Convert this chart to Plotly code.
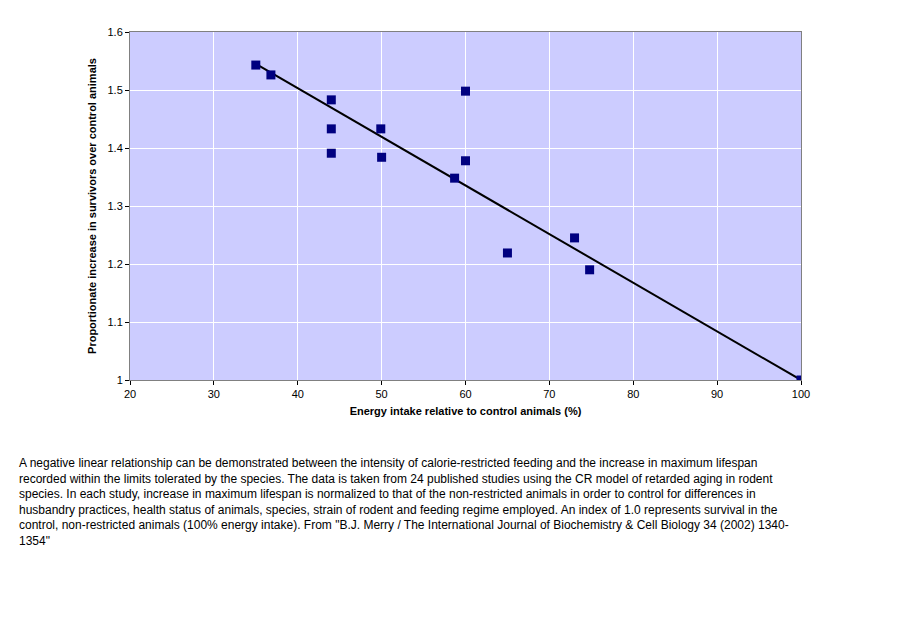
import plotly.graph_objects as go

energy = [35, 36.8, 44, 44, 44, 49.9, 50, 60, 60, 58.7, 65, 73, 74.8, 100]
lifespan = [1.543, 1.526, 1.483, 1.433, 1.391, 1.433, 1.384, 1.498, 1.378, 1.348, 1.219, 1.245, 1.190, 1.0]
fit_x = [35, 100]
fit_y = [1.545, 1.0]

caption = ("A negative linear relationship can be demonstrated between the intensity of calorie-restricted feeding and the increase in maximum lifespan<br>"
           "recorded within the limits tolerated by the species. The data is taken from 24 published studies using the CR model of retarded aging in rodent<br>"
           "species. In each study, increase in maximum lifespan is normalized to that of the non-restricted animals in order to control for differences in<br>"
           "husbandry practices, health status of animals, species, strain of rodent and feeding regime employed. An index of 1.0 represents survival in the<br>"
           "control, non-restricted animals (100% energy intake). From \"B.J. Merry / The International Journal of Biochemistry &amp; Cell Biology 34 (2002) 1340-<br>"
           "1354\"")

fig = go.Figure()
fig.add_trace(go.Scatter(x=fit_x, y=fit_y, mode="lines", line=dict(color="black", width=2), hoverinfo="skip"))
fig.add_trace(go.Scatter(x=energy, y=lifespan, mode="markers",
                         marker=dict(symbol="square", size=9, color="#000080")))

axis_common = dict(showgrid=True, gridcolor="white", gridwidth=1, showline=True, linecolor="#808080",
                   mirror=True, ticks="outside", ticklen=4, tickcolor="black", zeroline=False,
                   tickfont=dict(size=11, color="black"))
fig.update_xaxes(range=[20, 100], dtick=10, title=dict(text="<b>Energy intake relative to control animals (%)</b>",
                 font=dict(size=11), standoff=8), **axis_common)
fig.update_yaxes(range=[1, 1.6], dtick=0.1, tickformat="~g",
                 title=dict(text="<b>Proportionate increase in survivors over control animals</b>", font=dict(size=11), standoff=8),
                 **axis_common)

fig.add_annotation(text=caption, xref="paper", yref="paper", x=-0.168, y=-0.213, xanchor="left", yanchor="top",
                   align="left", showarrow=False, font=dict(size=12, color="black"))

fig.update_layout(width=907, height=621, showlegend=False, plot_bgcolor="#CCCCFF", paper_bgcolor="white",
                  margin=dict(l=122, r=114, t=24, b=249),
                  font=dict(family="Liberation Sans, Arial, sans-serif", color="black"))
fig.write_html("out.html")
